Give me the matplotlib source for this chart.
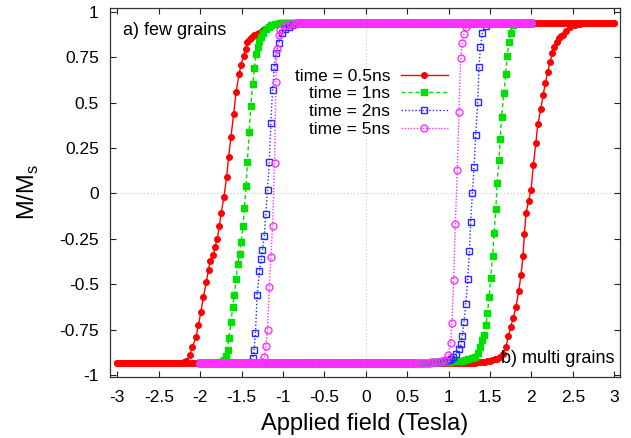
import numpy as np
import matplotlib.pyplot as plt

plt.rcParams["font.family"] = ["Liberation Sans", "DejaVu Sans"]
plt.rcParams["axes.unicode_minus"] = False

# saturation level and field ranges
m_sat = 0.935
red_range, red_step = (-3.0, 3.0), 0.03
other_range, other_step = (-2.0, 2.0), 0.02

# transition points (field in T, M/Ms)
red_down_x = [-2.23, -2.20, -2.168, -2.127, -2.095, -2.050, -2.022, -1.993, -1.961, -1.928,
              -1.900, -1.880, -1.840, -1.823, -1.795, -1.770, -1.746, -1.713, -1.682, -1.657,
              -1.628, -1.597, -1.567, -1.531, -1.507, -1.475, -1.451, -1.430, -1.397, -1.370,
              -1.345, -1.320, -1.296, -1.270, -1.236, -1.21, -1.18, -1.15, -1.12, -1.09, -1.06]
red_down_m = [-0.932, -0.928, -0.922, -0.890, -0.845, -0.790, -0.725, -0.654, -0.569, -0.488,
              -0.422, -0.373, -0.336, -0.297, -0.250, -0.180, -0.107, -0.019, 0.088, 0.202,
              0.312, 0.437, 0.556, 0.657, 0.706, 0.758, 0.793, 0.831, 0.848, 0.860,
              0.872, 0.878, 0.884, 0.890, 0.899, 0.905, 0.913, 0.920, 0.926, 0.930, 0.933]
red_up_x = [1.23, 1.26, 1.29, 1.32, 1.35, 1.38, 1.41, 1.44, 1.47, 1.50, 1.53, 1.56, 1.580,
            1.62, 1.660, 1.693, 1.721, 1.750, 1.781, 1.814, 1.847, 1.875, 1.899, 1.915, 1.936,
            1.966, 1.996, 2.024, 2.053, 2.078, 2.114, 2.142, 2.170, 2.199, 2.227, 2.255, 2.276,
            2.309, 2.337, 2.360, 2.382, 2.422, 2.470, 2.531, 2.56, 2.59]
red_up_m = [-0.933, -0.932, -0.931, -0.930, -0.929, -0.928, -0.926, -0.925, -0.923, -0.921,
            -0.918, -0.913, -0.909, -0.897, -0.881, -0.845, -0.786, -0.735, -0.683, -0.624,
            -0.538, -0.446, -0.345, -0.224, -0.107, -0.042, 0.021, 0.156, 0.275, 0.380, 0.466,
            0.541, 0.609, 0.670, 0.725, 0.774, 0.807, 0.835, 0.854, 0.864, 0.872, 0.895, 0.914,
            0.927, 0.930, 0.933]

green_down_x = [-1.76, -1.73, -1.710, -1.689, -1.670, -1.653, -1.628, -1.609, -1.588, -1.567,
                -1.548, -1.524, -1.507, -1.482, -1.467, -1.446, -1.430, -1.409, -1.390, -1.366,
                -1.345, -1.329, -1.308, -1.288, -1.262, -1.236, -1.205, -1.175, -1.14, -1.10, -1.06]
green_down_m = [-0.930, -0.924, -0.914, -0.894, -0.859, -0.793, -0.709, -0.626, -0.556, -0.472,
                -0.389, -0.332, -0.268, -0.178, -0.079, 0.040, 0.174, 0.338, 0.481, 0.602,
                0.688, 0.765, 0.805, 0.840, 0.862, 0.881, 0.902, 0.917, 0.925, 0.930, 0.933]
green_up_x = [0.60, 0.64, 0.68, 0.72, 0.76, 0.80, 0.84, 0.88, 0.92, 0.96, 1.00, 1.04, 1.08,
              1.12, 1.16, 1.20, 1.24, 1.28, 1.316, 1.35, 1.377, 1.401, 1.429, 1.450, 1.470,
              1.490, 1.510, 1.531, 1.550, 1.571, 1.587, 1.608, 1.623, 1.640, 1.668, 1.689,
              1.708, 1.729, 1.750, 1.774, 1.80]
green_up_m = [-0.934, -0.933, -0.932, -0.931, -0.931, -0.930, -0.929, -0.928, -0.927, -0.926,
              -0.925, -0.924, -0.923, -0.922, -0.920, -0.917, -0.912, -0.905, -0.900, -0.875,
              -0.845, -0.808, -0.776, -0.725, -0.657, -0.569, -0.463, -0.345, -0.217, -0.083,
              0.058, 0.183, 0.297, 0.422, 0.551, 0.655, 0.756, 0.831, 0.884, 0.927, 0.933]

blue_down_x = [-1.44, -1.40, -1.366, -1.349, -1.333, -1.312, -1.284, -1.264, -1.248, -1.227,
               -1.208, -1.187, -1.166, -1.147, -1.126, -1.106, -1.081, -1.053, -1.013, -0.97,
               -0.932, -0.89, -0.85]
blue_down_m = [-0.932, -0.925, -0.905, -0.859, -0.768, -0.556, -0.424, -0.362, -0.312, -0.233,
               -0.114, 0.018, 0.171, 0.385, 0.569, 0.694, 0.774, 0.826, 0.881, 0.905,
               0.917, 0.926, 0.931]
blue_up_x = [0.60, 0.64, 0.68, 0.72, 0.76, 0.80, 0.84, 0.88, 0.92, 0.96, 1.00, 1.025, 1.052,
             1.094, 1.125, 1.149, 1.166, 1.186, 1.207, 1.231, 1.252, 1.267, 1.288, 1.307, 1.328,
             1.352, 1.368, 1.385, 1.409, 1.446, 1.49]
blue_up_m = [-0.934, -0.933, -0.932, -0.931, -0.930, -0.929, -0.927, -0.925, -0.922, -0.919,
             -0.914, -0.908, -0.900, -0.881, -0.854, -0.830, -0.786, -0.707, -0.610, -0.468,
             -0.318, -0.156, 0.000, 0.146, 0.321, 0.504, 0.697, 0.807, 0.884, 0.921, 0.931]

mag_down_x = [-1.30, -1.26, -1.224, -1.208, -1.187, -1.166, -1.147, -1.126, -1.102, -1.086,
              -1.074, -1.053, -1.033, -0.993, -0.95, -0.90, -0.85]
mag_down_m = [-0.932, -0.925, -0.900, -0.839, -0.749, -0.514, -0.349, -0.180, 0.168, 0.611,
              0.793, 0.872, 0.899, 0.921, 0.926, 0.930, 0.933]
mag_up_x = [0.60, 0.64, 0.68, 0.72, 0.76, 0.80, 0.84, 0.88, 0.92, 0.951, 0.992, 1.024, 1.040,
            1.061, 1.081, 1.106, 1.125, 1.146, 1.166, 1.186, 1.215, 1.25]
mag_up_m = [-0.934, -0.933, -0.932, -0.931, -0.930, -0.929, -0.927, -0.925, -0.922, -0.918,
            -0.890, -0.823, -0.713, -0.477, -0.169, 0.128, 0.449, 0.743, 0.826, 0.877,
            0.917, 0.930]

labels = ["time = 0.5ns", "time = 1ns", "time = 2ns", "time = 5ns"]


def full_branch(tx, tm, xr, step):
    # saturated plateaus on both sides of the transition points
    lo = np.arange(xr[0], tx[0] - step / 2, step)
    hi = np.arange(xr[1], tx[-1] + step / 2, -step)[::-1]
    x = np.concatenate([lo, tx, hi])
    m = np.concatenate([np.full(len(lo), -m_sat), tm, np.full(len(hi), m_sat)])
    return x, m


series = [
    (red_down_x, red_down_m, red_up_x, red_up_m, red_range, red_step,
     dict(color="#ff0000", ls="-", marker="o", ms=4, mfc="#ff0000", mec="#ff0000")),
    (green_down_x, green_down_m, green_up_x, green_up_m, other_range, other_step,
     dict(color="#00e000", ls=(0, (3, 2)), marker="s", ms=4.2, mfc="#00e000", mec="#00e000")),
    (blue_down_x, blue_down_m, blue_up_x, blue_up_m, other_range, other_step,
     dict(color="#2a2aff", ls=(0, (1, 1.5)), marker="s", ms=5, mfc="none", mec="#2a2aff", mew=1)),
    (mag_down_x, mag_down_m, mag_up_x, mag_up_m, other_range, other_step,
     dict(color="#ff30ff", ls=(0, (1, 1.2)), marker="o", ms=5, mfc="none", mec="#ff30ff", mew=1)),
]

fig = plt.figure(figsize=(6.31, 4.38), dpi=100)
ax = fig.add_axes([0.1743, 0.139, 0.8082, 0.8427])

ax.axhline(0, color="#c8c8c8", lw=0.8, ls=(0, (1, 2)), zorder=0)
ax.axvline(0, color="#c8c8c8", lw=0.8, ls=(0, (1, 2)), zorder=0)

for (dx, dm, ux, um, xr, step, st), lab in zip(series, labels):
    x, m = full_branch(dx, dm, xr, step)
    ax.plot(x, m, lw=1, label=lab, **st)
    x, m = full_branch(ux, um, xr, step)
    ax.plot(x, m, lw=1, **st)

ax.set_xlim(-3.09, 3.07)
ax.set_ylim(-1.01, 1.02)
xt = np.arange(-3, 3.01, 0.5)
yt = np.arange(-1, 1.01, 0.25)
ax.set_xticks(xt)
ax.set_xticklabels([f"{v:g}" for v in xt])
ax.set_yticks(yt)
ax.set_yticklabels([f"{v:g}" for v in yt])
ax.tick_params(direction="in", length=4, width=0.8, top=True, right=True,
               labelsize=12.5, colors="#222222", labelcolor="black")
ax.tick_params(axis="x", pad=9)
ax.tick_params(axis="y", pad=8)
for s in ax.spines.values():
    s.set_linewidth(0.9)
    s.set_color("#333333")

ax.set_xlabel("Applied field (Tesla)", fontsize=17, va="center")
ax.xaxis.set_label_coords(0.5, -0.128)
ax.set_ylabel("M/M$_\\mathregular{s}$", fontsize=17, va="center")
ax.yaxis.set_label_coords(-0.16, 0.5)

ax.text(0.025, 0.94, "a) few grains", transform=ax.transAxes, fontsize=13, va="center")
ax.text(0.99, 0.051, "b) multi grains", transform=ax.transAxes, fontsize=13,
        va="center", ha="right")

ax.legend(loc="upper right", bbox_to_anchor=(0.662, 0.836), markerfirst=False,
          frameon=False, handlelength=2.7, handletextpad=0.6, labelspacing=0.15,
          borderpad=0, borderaxespad=0, fontsize=12.5, numpoints=1)

fig.savefig("out.png", dpi=100)
